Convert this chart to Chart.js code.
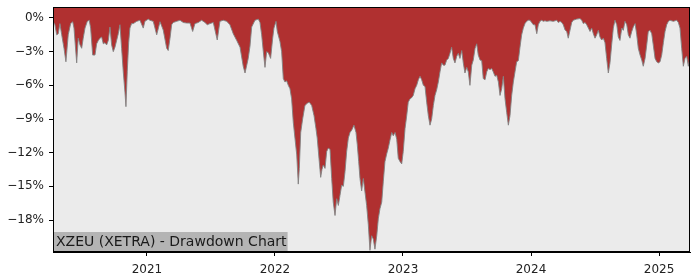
<!DOCTYPE html>
<html>
<head>
<meta charset="utf-8">
<script src="https://cdn.jsdelivr.net/npm/chart.js@4/dist/chart.umd.min.js"></script>
<style>
  html, body { margin: 0; padding: 0; background: #fff; }
  #wrap { width: 700px; height: 280px; position: relative; }
</style>
</head>
<body>
<div id="wrap"><canvas id="ddChart"></canvas></div>
<script>
// drawdown of XZEU (XETRA), dates as decimal years, values in %
const dates = [
  2020.266, 2020.281, 2020.295, 2020.307, 2020.320, 2020.334, 2020.352, 2020.367, 2020.385, 2020.404,
  2020.420, 2020.430, 2020.451, 2020.463, 2020.477, 2020.490, 2020.502, 2020.516, 2020.534, 2020.549,
  2020.560, 2020.576, 2020.594, 2020.607, 2020.620, 2020.633, 2020.646, 2020.659, 2020.672, 2020.685,
  2020.698, 2020.711, 2020.724, 2020.737, 2020.750, 2020.763, 2020.776, 2020.789, 2020.802, 2020.815,
  2020.828, 2020.836, 2020.846, 2020.857, 2020.867, 2020.880, 2020.893, 2020.920, 2020.945, 2020.971,
  2020.984, 2021.010, 2021.023, 2021.049, 2021.076, 2021.102, 2021.127, 2021.154, 2021.166, 2021.180,
  2021.193, 2021.205, 2021.232, 2021.258, 2021.284, 2021.310, 2021.336, 2021.357, 2021.375, 2021.401,
  2021.427, 2021.453, 2021.471, 2021.492, 2021.518, 2021.549, 2021.570, 2021.596, 2021.623, 2021.648,
  2021.674, 2021.701, 2021.727, 2021.752, 2021.766, 2021.791, 2021.805, 2021.818, 2021.844, 2021.870,
  2021.883, 2021.896, 2021.909, 2021.922, 2021.935, 2021.948, 2021.966, 2021.982, 2021.992, 2022.008,
  2022.018, 2022.039, 2022.052, 2022.065, 2022.078, 2022.091, 2022.104, 2022.117, 2022.130, 2022.143,
  2022.156, 2022.170, 2022.182, 2022.190, 2022.201, 2022.216, 2022.234, 2022.252, 2022.268, 2022.287,
  2022.305, 2022.320, 2022.330, 2022.346, 2022.357, 2022.367, 2022.377, 2022.391, 2022.404, 2022.416,
  2022.430, 2022.443, 2022.455, 2022.469, 2022.482, 2022.495, 2022.508, 2022.521, 2022.534, 2022.547,
  2022.560, 2022.573, 2022.586, 2022.599, 2022.617, 2022.633, 2022.643, 2022.654, 2022.664, 2022.677,
  2022.690, 2022.703, 2022.716, 2022.729, 2022.742, 2022.755, 2022.768, 2022.781, 2022.795, 2022.807,
  2022.820, 2022.834, 2022.846, 2022.859, 2022.873, 2022.885, 2022.898, 2022.912, 2022.924, 2022.938,
  2022.951, 2022.963, 2022.977, 2022.990, 2023.002, 2023.016, 2023.029, 2023.041, 2023.055, 2023.068,
  2023.080, 2023.094, 2023.107, 2023.120, 2023.133, 2023.146, 2023.159, 2023.172, 2023.185, 2023.198,
  2023.211, 2023.224, 2023.237, 2023.250, 2023.263, 2023.276, 2023.289, 2023.302, 2023.315, 2023.328,
  2023.341, 2023.354, 2023.367, 2023.380, 2023.393, 2023.406, 2023.420, 2023.432, 2023.445, 2023.459,
  2023.471, 2023.484, 2023.498, 2023.510, 2023.523, 2023.537, 2023.549, 2023.563, 2023.576, 2023.588,
  2023.602, 2023.615, 2023.627, 2023.641, 2023.654, 2023.666, 2023.680, 2023.693, 2023.705, 2023.719,
  2023.732, 2023.745, 2023.758, 2023.771, 2023.784, 2023.797, 2023.810, 2023.823, 2023.836, 2023.849,
  2023.862, 2023.875, 2023.888, 2023.901, 2023.914, 2023.927, 2023.940, 2023.953, 2023.966, 2023.979,
  2023.992, 2024.005, 2024.018, 2024.031, 2024.045, 2024.057, 2024.070, 2024.084, 2024.096, 2024.109,
  2024.123, 2024.148, 2024.174, 2024.201, 2024.213, 2024.227, 2024.240, 2024.252, 2024.266, 2024.279,
  2024.291, 2024.305, 2024.318, 2024.330, 2024.357, 2024.383, 2024.396, 2024.409, 2024.422, 2024.435,
  2024.448, 2024.461, 2024.474, 2024.487, 2024.500, 2024.513, 2024.526, 2024.539, 2024.552, 2024.565,
  2024.578, 2024.591, 2024.604, 2024.617, 2024.630, 2024.643, 2024.656, 2024.670, 2024.682, 2024.695,
  2024.709, 2024.721, 2024.734, 2024.748, 2024.760, 2024.773, 2024.787, 2024.799, 2024.813, 2024.826,
  2024.838, 2024.852, 2024.865, 2024.877, 2024.891, 2024.904, 2024.916, 2024.930, 2024.943, 2024.955,
  2024.969, 2024.982, 2024.995, 2025.008, 2025.021, 2025.034, 2025.047, 2025.060, 2025.073, 2025.086,
  2025.112, 2025.138, 2025.151, 2025.164, 2025.177, 2025.190, 2025.203, 2025.216, 2025.229, 2025.242
];

const drawdown = [
  -0.3, -0.6, -1.5, -1.4, -0.5, -1.5, -2.7, -3.9, -1.5, -0.5,
  -0.33, -0.9, -4.0, -1.8, -2.4, -2.7, -1.8, -0.9, -0.3, -0.2,
  -0.9, -3.3, -3.3, -2.3, -2.0, -1.8, -1.7, -2.3, -2.2, -2.4,
  -2.0, -0.8, -2.4, -3.0, -2.6, -2.0, -1.4, -0.6, -2.7, -4.8,
  -6.6, -7.9, -4.8, -2.2, -0.9, -0.5, -0.5, -0.3, -0.2, -0.9,
  -0.3, -0.1, -0.2, -0.3, -1.5, -0.33, -1.07, -2.7, -2.9, -1.8,
  -0.6, -0.4, -0.3, -0.2, -0.4, -0.45, -0.45, -1.2, -0.5, -0.4,
  -0.2, -0.4, -0.6, -0.5, -0.4, -1.96, -0.3, -0.2, -0.3, -0.6,
  -1.4, -2.0, -2.6, -4.3, -4.9, -3.6, -2.5, -0.8, -0.2, -0.1,
  -0.4, -1.5, -3.0, -4.4, -3.0, -3.1, -3.6, -1.8, -0.9, -0.3,
  -1.2, -2.1, -3.0, -5.4, -5.7, -5.6, -6.0, -6.3, -7.2, -9.3,
  -10.7, -12.2, -14.8, -13.4, -10.2, -9.0, -7.8, -7.6, -7.5, -7.8,
  -8.7, -9.85, -10.7, -12.8, -14.2, -13.5, -13.1, -13.4, -11.9, -11.6,
  -11.7, -14.3, -16.4, -17.6, -16.1, -16.7, -15.8, -14.9, -15.0, -13.7,
  -11.9, -10.7, -10.2, -10.0, -9.55, -10.2, -11.3, -12.8, -14.3, -15.4,
  -14.3, -15.5, -16.7, -18.4, -20.7, -19.4, -19.7, -20.6, -19.4, -17.9,
  -17.0, -16.4, -14.6, -12.8, -12.1, -11.6, -10.9, -10.2, -10.5, -10.2,
  -10.8, -12.5, -12.8, -13.0, -11.9, -9.85, -8.7, -7.5, -7.2, -7.1,
  -6.9, -6.3, -6.0, -5.5, -5.2, -5.5, -6.0, -6.1, -7.5, -8.7,
  -9.55, -9.0, -7.8, -6.9, -6.4, -5.7, -4.8, -4.0, -4.2, -4.2,
  -3.75, -3.6, -3.15, -2.6, -3.6, -4.0, -3.4, -3.15, -3.6, -2.9,
  -4.0, -4.9, -4.4, -4.8, -6.0, -4.2, -3.75, -2.7, -2.3, -3.3,
  -3.75, -3.8, -5.4, -5.5, -4.8, -4.5, -4.6, -4.5, -4.8, -5.2,
  -5.1, -5.7, -6.9, -6.3, -5.2, -7.2, -8.4, -9.55, -8.7, -6.9,
  -5.7, -4.8, -3.9, -3.8, -2.6, -1.5, -0.9, -0.5, -0.3, -0.2,
  -0.2, -0.4, -0.6, -0.6, -1.4, -0.6, -0.3, -0.2, -0.3, -0.25,
  -0.3, -0.25, -0.3, -0.2, -0.4, -0.3, -0.4, -0.6, -1.07, -1.2,
  -1.8, -1.07, -0.4, -0.2, -0.1, -0.05, -0.2, -0.5, -0.4, -0.6,
  -0.9, -1.2, -0.9, -1.4, -1.8, -1.5, -1.1, -1.7, -1.96, -1.8,
  -2.2, -3.6, -4.9, -4.0, -2.4, -0.9, -0.2, -0.6, -1.7, -2.0,
  -0.9, -1.1, -0.3, -0.6, -1.5, -1.8, -1.2, -0.8, -0.5, -1.5,
  -2.7, -3.3, -3.75, -4.3, -3.6, -2.4, -1.2, -1.1, -1.4, -2.4,
  -3.6, -3.9, -4.0, -3.9, -3.3, -2.2, -1.2, -0.6, -0.3, -0.2,
  -0.3, -0.2, -0.4, -0.9, -2.7, -4.3, -3.6, -3.4, -4.3, -3.3
];

const yearTicks = [2021, 2022, 2023, 2024, 2025];
const pctTicks = [0, -3, -6, -9, -12, -15, -18];
const chartTitle = 'XZEU (XETRA) - Drawdown Chart';

const points = dates.map((d, i) => ({ x: d, y: drawdown[i] }));

// plot background + top/right frame + title box
const frame = {
  id: 'frame',
  beforeDraw(chart) {
    const { ctx, chartArea: a } = chart;
    ctx.save();
    ctx.fillStyle = '#ebebeb';
    ctx.fillRect(a.left, a.top, a.right - a.left, a.bottom - a.top);
    ctx.restore();
  },
  afterDraw(chart) {
    const { ctx, chartArea: a } = chart;
    ctx.save();
    ctx.strokeStyle = '#000';
    ctx.lineWidth = 1;
    ctx.strokeRect(a.left + 0.5, a.top + 0.5, a.right - a.left - 1, a.bottom - a.top - 1);

    ctx.font = '14px "DejaVu Sans"';
    const w = ctx.measureText(chartTitle).width;
    ctx.fillStyle = '#b4b4b4';
    ctx.fillRect(a.left + 1, a.bottom - 20, w + 3, 19);
    ctx.fillStyle = '#1a1a1a';
    ctx.textBaseline = 'middle';
    ctx.fillText(chartTitle, a.left + 3, a.bottom - 10);
    ctx.restore();
  }
};

new Chart(document.getElementById('ddChart'), {
  type: 'line',
  data: {
    datasets: [{
      data: points,
      fill: 'end',
      backgroundColor: '#b03030',
      borderColor: 'rgba(130,130,130,0.9)',
      borderWidth: 1,
      pointRadius: 0,
      tension: 0
    }]
  },
  options: {
    responsive: true,
    maintainAspectRatio: false,
    animation: false,
    layout: { padding: { top: 7, right: 10, left: 0, bottom: 0 } },
    plugins: {
      legend: { display: false },
      tooltip: { enabled: false }
    },
    scales: {
      x: {
        type: 'linear',
        min: 2020.266,
        max: 2025.242,
        afterBuildTicks: s => { s.ticks = yearTicks.map(v => ({ value: v })); },
        afterFit: s => { s.height = 28; s.paddingLeft = 0; s.paddingRight = 0; },
        grid: { drawOnChartArea: false, drawTicks: true, tickLength: 4, color: '#000' },
        border: { display: true, color: '#000' },
        ticks: {
          color: '#222',
          font: { family: 'DejaVu Sans', size: 12 },
          padding: 7,
          maxRotation: 0,
          callback: v => String(v)
        }
      },
      y: {
        type: 'linear',
        min: -20.85,
        max: 0.98,
        afterBuildTicks: s => { s.ticks = pctTicks.map(v => ({ value: v })); },
        afterFit: s => { s.width = 53; s.paddingTop = 0; s.paddingBottom = 0; },
        grid: { drawOnChartArea: false, drawTicks: true, tickLength: 4, color: '#000' },
        border: { display: true, color: '#000' },
        ticks: {
          color: '#222',
          font: { family: 'DejaVu Sans', size: 12 },
          padding: 5,
          callback: v => (v === 0 ? '0%' : '\u2212' + Math.abs(v) + '%')
        }
      }
    }
  },
  plugins: [frame]
});
</script>
</body>
</html>
